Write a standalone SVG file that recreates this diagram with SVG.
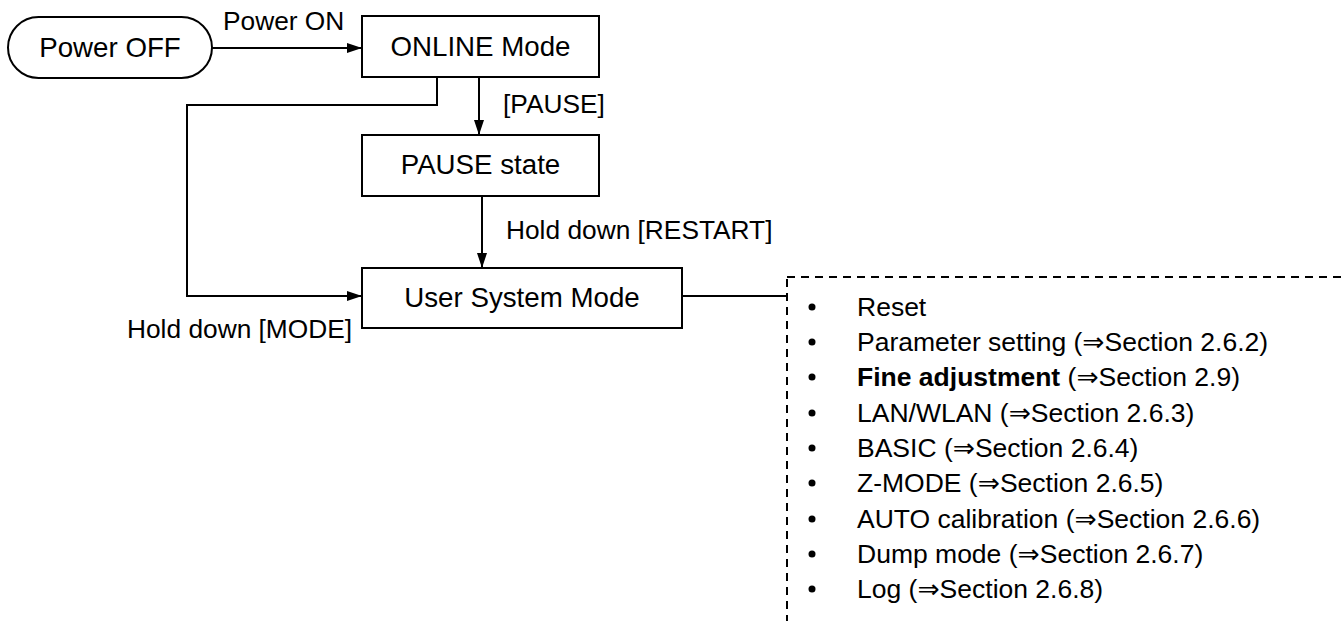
<svg xmlns="http://www.w3.org/2000/svg" width="1344" height="621" viewBox="0 0 1344 621">
<style>
text{font-family:"Liberation Sans",Arial,"DejaVu Sans",sans-serif;font-size:26.3px;fill:#000}
.node{font-size:27.7px;text-anchor:middle}
.li{font-size:26.5px}
.box{fill:#fff;stroke:#000;stroke-width:2}
.ln{fill:none;stroke:#000;stroke-width:2}
.dash{fill:none;stroke:#000;stroke-width:2;stroke-dasharray:8 6}
</style>
<defs>
<marker id="ah" markerWidth="15" markerHeight="10" refX="14" refY="5" orient="auto" markerUnits="userSpaceOnUse">
<path d="M0,0 L15,5 L0,10 Z" fill="#000"/>
</marker>
</defs>
<rect width="1344" height="621" fill="#fff"/>
<g id="connectors">
<line class="ln" x1="212" y1="48" x2="361" y2="48" marker-end="url(#ah)"/>
<line class="ln" x1="479" y1="77" x2="479" y2="134" marker-end="url(#ah)"/>
<line class="ln" x1="482" y1="196" x2="482" y2="267" marker-end="url(#ah)"/>
<polyline class="ln" points="437,77 437,105 187,105 187,296 361,296" marker-end="url(#ah)"/>
<line class="ln" x1="682" y1="296" x2="787" y2="296"/>
<text x="223" y="30">Power ON</text>
<text x="503" y="113">[PAUSE]</text>
<text x="506" y="239">Hold down [RESTART]</text>
<text x="127" y="338">Hold down [MODE]</text>
</g>
<g id="power-off">
<rect class="box" x="8" y="17" width="204" height="61" rx="30.5"/>
<text class="node" x="110" y="57">Power OFF</text>
</g>
<g id="online-mode">
<rect class="box" x="362" y="16" width="237" height="61"/>
<text class="node" x="480.5" y="56">ONLINE Mode</text>
</g>
<g id="pause-state">
<rect class="box" x="362" y="135" width="237" height="61"/>
<text class="node" x="480.5" y="174">PAUSE state</text>
</g>
<g id="user-system-mode">
<rect class="box" x="362" y="268" width="320" height="60"/>
<text class="node" x="522" y="307">User System Mode</text>
</g>
<g id="menu-list">
<rect class="dash" x="787" y="277" width="620" height="400"/>
<g class="li">
<circle cx="812" cy="307" r="3.5"/><text class="li" x="857" y="316">Reset</text>
<circle cx="812" cy="342" r="3.5"/><text class="li" x="857" y="351">Parameter setting (⇒Section 2.6.2)</text>
<circle cx="812" cy="377" r="3.5"/><text class="li" x="857" y="386"><tspan font-weight="bold">Fine adjustment</tspan> (⇒Section 2.9)</text>
<circle cx="812" cy="413" r="3.5"/><text class="li" x="857" y="422">LAN/WLAN (⇒Section 2.6.3)</text>
<circle cx="812" cy="448" r="3.5"/><text class="li" x="857" y="457">BASIC (⇒Section 2.6.4)</text>
<circle cx="812" cy="483" r="3.5"/><text class="li" x="857" y="492">Z-MODE (⇒Section 2.6.5)</text>
<circle cx="812" cy="519" r="3.5"/><text class="li" x="857" y="528">AUTO calibration (⇒Section 2.6.6)</text>
<circle cx="812" cy="554" r="3.5"/><text class="li" x="857" y="563">Dump mode (⇒Section 2.6.7)</text>
<circle cx="812" cy="589" r="3.5"/><text class="li" x="857" y="598">Log (⇒Section 2.6.8)</text>
</g>
</g>
</svg>
